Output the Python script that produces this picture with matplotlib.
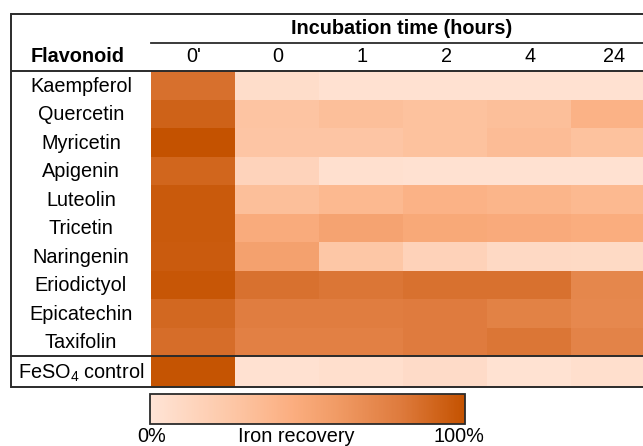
import numpy as np
import matplotlib
matplotlib.use("Agg")
import matplotlib.pyplot as plt
from matplotlib.colors import LinearSegmentedColormap

plt.rcParams['font.family'] = ['Liberation Sans', 'DejaVu Sans']
plt.rcParams['mathtext.fontset'] = 'custom'
plt.rcParams['mathtext.rm'] = 'Liberation Sans'

# data: iron recovery (%) per flavonoid and incubation time
flavonoids = ["Kaempferol", "Quercetin", "Myricetin", "Apigenin", "Luteolin",
              "Tricetin", "Naringenin", "Eriodictyol", "Epicatechin", "Taxifolin"]
times = ["0'", "0", "1", "2", "4", "24"]
recovery = np.array([
    [85,  7,  3,  3,  3,  3],
    [92, 28, 32, 30, 32, 42],
    [100, 27, 27, 30, 34, 30],
    [90, 15,  4,  3,  3,  3],
    [96, 32, 37, 42, 40, 37],
    [96, 47, 53, 49, 48, 46],
    [95, 55, 26, 16, 10,  9],
    [98, 84, 82, 84, 84, 72],
    [89, 78, 78, 79, 75, 71],
    [86, 76, 76, 79, 82, 74],
])
control_label = r"FeSO$_\mathrm{4}$ control"
control = np.array([[99, 3, 5, 8, 2, 5]])

cmap = LinearSegmentedColormap.from_list("iron", [
    (0.0, "#FFE4D6"), (0.25, "#FDC8A8"), (0.45, "#FBAE80"),
    (0.6, "#F09A64"), (0.8, "#DE7A3C"), (1.0, "#C45200")])

W, H = 643, 446
fig = plt.figure(figsize=(W / 100, H / 100), dpi=100)
ax = fig.add_axes([0, 0, 1, 1])
ax.set_xlim(0, W)
ax.set_ylim(H, 0)
ax.axis("off")

# layout in pixels
x0, xl = 11, 151
cw = 84
xe = xl + cw * np.arange(len(times) + 1)
y_top, y_sub, y_head = 14, 43, 71
y_rows = np.linspace(71, 356, len(flavonoids) + 1)
y_ctrl = np.array([356, 387])

mesh = ax.pcolormesh(xe, y_rows, recovery, cmap=cmap, vmin=0, vmax=100)
ax.pcolormesh(xe, y_ctrl, control, cmap=cmap, vmin=0, vmax=100)

lc = "#2b2b2b"
for y in [y_top, y_head, 356, 387]:
    ax.plot([x0, W], [y, y], color=lc, lw=1.4, solid_capstyle="butt")
ax.plot([xl, W], [y_sub, y_sub], color=lc, lw=1.3)
ax.plot([x0, x0], [y_top, 387], color=lc, lw=1.4)

fs = 14.3
ax.text((291 + 512) / 2, 28, "Incubation time (hours)", ha="center", va="center",
        fontsize=fs, fontweight="bold")
ax.text(78, 56, "Flavonoid", ha="center", va="center", fontsize=fs, fontweight="bold")
for i, t in enumerate(times):
    ax.text((xe[i] + xe[i + 1]) / 2 + 1, 57, t, ha="center", va="center", fontsize=fs)
for i, f in enumerate(flavonoids):
    ax.text(81, (y_rows[i] + y_rows[i + 1]) / 2 + 1, f, ha="center", va="center", fontsize=fs)
ax.text(81, 373, control_label, ha="center", va="center", fontsize=fs)

# colorbar
cax = fig.add_axes([150 / W, 1 - 424 / H, 315 / W, 30 / H])
cb = fig.colorbar(mesh, cax=cax, orientation="horizontal")
cb.set_ticks([])
cb.outline.set_linewidth(1.3)
cb.outline.set_edgecolor(lc)
ax.text(152, 437, "0%", ha="center", va="center", fontsize=fs)
ax.text(296, 437, "Iron recovery", ha="center", va="center", fontsize=fs)
ax.text(459, 437, "100%", ha="center", va="center", fontsize=fs)

fig.savefig("out.png", dpi=100)
